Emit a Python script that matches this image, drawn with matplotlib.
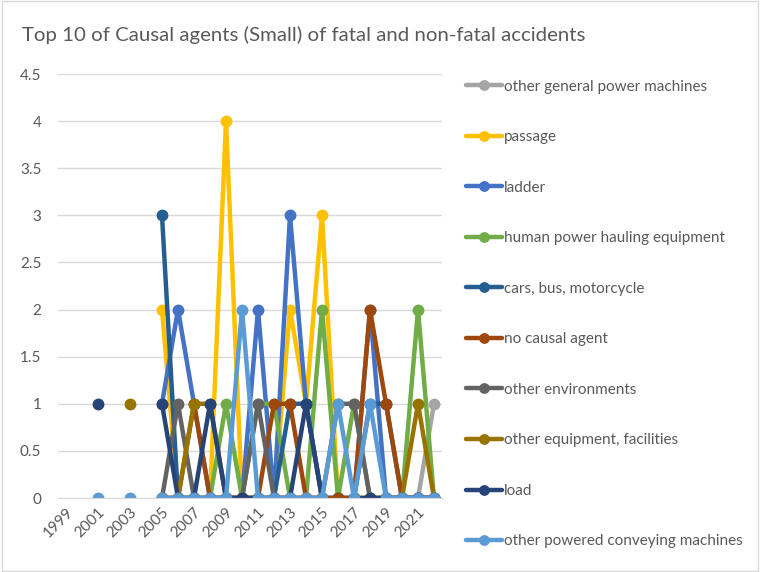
import numpy as np
import matplotlib.pyplot as plt
from matplotlib.patches import Rectangle

nan = np.nan

# categories: every year 1999-2022 (blank years give gaps)
years = list(range(1999, 2023))

# values per year, 1999 ... 2022
#                   99  00   01   02   03   04  05 06 07 08 09 10 11 12 13 14 15 16  17 18 19 20 21 22
general_power = [nan, nan, nan, nan, nan, nan, 0, 0, 0, 0, 0, 0, 0, 0, 0, 0, 0, 0, 0, 0, 0, 0, 0, 1]
passage       = [nan, nan, nan, nan, nan, nan, 2, 0, 0, 0, 4, 0, 0, 0, 2, 1, 3, 0, 0, 0, 0, 0, 0, 0]
ladder        = [nan, nan, nan, nan, nan, nan, 1, 2, 1, 0, 0, 0, 2, 0, 3, 1, 0, 0, 0, 2, 0, 0, 0, 0]
human_hauling = [nan, nan, nan, nan, nan, nan, 0, 0, 0, 0, 1, 0, 1, 1, 0, 0, 2, 0, 1, 0, 0, 0, 2, 0]
cars          = [nan, nan, nan, nan, nan, nan, 3, 0, 0, 0, 0, 0, 0, 0, 1, 1, 0, 0, 0, 1, 1, 0, 0, 0]
no_agent      = [nan, nan, nan, nan, nan, nan, 0, 0, 1, 0, 0, 0, 0, 1, 1, 0, 0, 0, 0, 2, 1, 0, 0, 0]
other_env     = [nan, nan, nan, nan, nan, nan, 0, 1, 0, 0, 0, 0, 1, 0, 0, 0, 0, 1, 1, 0, 0, 0, 0, 0]
other_equip   = [nan, nan, nan, nan, 1, nan, 0, 0, 1, 1, 0, 0, 0, 0, 0, 0, 0, nan, 0, 0, 0, 0, 1, 0]
load          = [nan, nan, 1, nan, nan, nan, 1, 0, 0, 1, 0, 0, 0, 0, 0, 1, 0, nan, 0, 0, 0, 0, 0, 0]
powered_conv  = [nan, nan, 0, nan, 0, nan, 0, 0, 0, 0, 0, 2, 0, 0, 0, 0, 0, 1, 0, 1, 0, 0, 0, 0]

series_names = ['other general power machines', 'passage', 'ladder',
                'human power hauling equipment', 'cars, bus, motorcycle',
                'no causal agent', 'other environments',
                'other equipment, facilities', 'load',
                'other powered conveying machines']
series_values = [general_power, passage, ladder, human_hauling, cars,
                 no_agent, other_env, other_equip, load, powered_conv]
colors = ['#A5A5A5', '#FFC000', '#4472C4', '#70AD47', '#255E91',
          '#9E480E', '#636363', '#997300', '#264478', '#5B9BD5']

plt.rcParams['font.family'] = ['Lato', 'DejaVu Sans']
txt = '#595959'

fig = plt.figure(figsize=(7.6, 5.72), dpi=100)
fig.patches.append(Rectangle((0.002, 0.002), 0.996, 0.996, transform=fig.transFigure,
                             fill=False, edgecolor='#D9D9D9', linewidth=1))
ax = fig.add_axes([58 / 760, 1 - 498 / 572, 384 / 760, 424 / 572])

x = np.arange(len(years))
for name, vals, c in zip(series_names, series_values, colors):
    ax.plot(x, np.array(vals, dtype=float), color=c, linewidth=3.2, marker='o',
            markersize=7.5, label=name, solid_capstyle='round')

ax.set_xlim(-0.5, len(years) - 0.5)
ax.set_ylim(0, 4.5)
ax.set_yticks(np.arange(0, 4.51, 0.5))
ax.set_yticklabels(['0', '0.5', '1', '1.5', '2', '2.5', '3', '3.5', '4', '4.5'])
ax.set_xticks(x[::2])
ax.set_xticklabels([str(y) for y in years[::2]], rotation=45, ha='right',
                   rotation_mode='anchor')
ax.tick_params(axis='both', length=0, colors=txt, labelsize=11)
ax.tick_params(axis='y', pad=12)
ax.tick_params(axis='x', pad=5)
ax.grid(axis='y', color='#D9D9D9', linewidth=1)
ax.set_axisbelow(True)
for s in ['top', 'right', 'left']:
    ax.spines[s].set_visible(False)
ax.spines['bottom'].set_color('#D9D9D9')

fig.text(22 / 760, 1 - 35 / 572, 'Top 10 of Causal agents (Small) of fatal and non-fatal accidents',
         fontsize=14.7, color=txt, va='center', ha='left')

leg = fig.legend(loc='upper left', bbox_to_anchor=(452 / 760, 1 - 66 / 572),
                 frameon=False, fontsize=11, labelspacing=2.39,
                 handlelength=2.4, handletextpad=0.1, markerscale=0.9)
for t in leg.get_texts():
    t.set_color(txt)

fig.savefig('out.png', dpi=100)
